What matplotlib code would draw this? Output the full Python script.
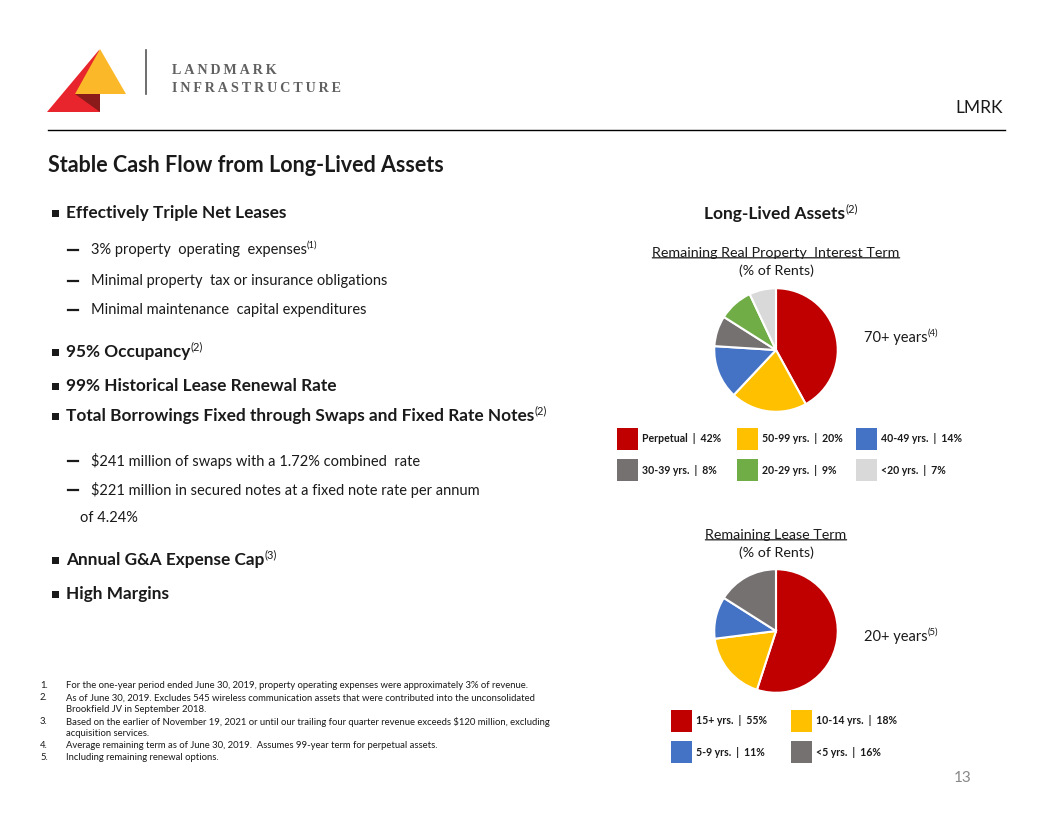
"""
Landmark Infrastructure slide 13: stable cash flow from long-lived assets.
Two pies (real property interest term, lease term) plus slide text.
"""

import matplotlib
matplotlib.use("Agg")
import matplotlib.pyplot as plt
from matplotlib.patches import Polygon, Rectangle

plt.rcParams["font.family"] = ["Lato", "DejaVu Sans"]

# data
property_labels = ["Perpetual  |  42%", "50-99 yrs.  |  20%", "40-49 yrs.  |  14%",
                   "30-39 yrs.  |  8%", "20-29 yrs.  |  9%", "<20 yrs.  |  7%"]
property_share = [42, 20, 14, 8, 9, 7]
property_colors = ["#C00000", "#FFC000", "#4472C4", "#767171", "#70AD47", "#D9D9D9"]

lease_labels = ["15+ yrs.  |  55%", "10-14 yrs.  |  18%", "5-9 yrs.  |  11%", "<5 yrs.  |  16%"]
lease_share = [55, 18, 11, 16]
lease_colors = ["#C00000", "#FFC000", "#4472C4", "#767171"]

W, H = 1056, 816
fig = plt.figure(figsize=(W / 100, H / 100), dpi=100)
bg = fig.add_axes([0, 0, 1, 1])
bg.set_xlim(0, W)
bg.set_ylim(H, 0)
bg.axis("off")

DARK = "#1a1a1a"
SERIF = ["Liberation Serif", "DejaVu Serif"]


def txt(x, y, s, size, bold=False, sup=None, color=DARK, ha="left", **kw):
    t = bg.text(x, y, s, fontsize=size, fontweight="bold" if bold else "normal",
                color=color, ha=ha, va="center", **kw)
    if sup:
        bg.annotate(sup, xy=(1.0, 0.5), xycoords=t, fontsize=size * 0.65,
                    color=color, ha="left", va="bottom")
    return t


def underline(t, color=DARK):
    bg.annotate("", xy=(0, 0.1), xytext=(1, 0.1), xycoords=t, textcoords=t,
                arrowprops=dict(arrowstyle="-", color=color, lw=0.9,
                                shrinkA=0, shrinkB=0))


# header / logo
bg.add_patch(Polygon([(47, 112), (100, 112), (99, 50)], closed=True, color="#E8242C", lw=0))
bg.add_patch(Polygon([(75, 94), (126, 94), (100, 49)], closed=True, color="#FBB829", lw=0))
bg.add_patch(Polygon([(75, 94), (100, 94), (100, 112)], closed=True, color="#8B1A1A", lw=0))
bg.plot([146, 146], [50, 94], color="#555555", lw=1.2)
bg.text(172, 70, "\u2009".join("LANDMARK"), fontsize=10.2, family=SERIF,
        color="#606060", va="center", fontweight="bold")
bg.text(172, 89, "\u2009".join("INFRASTRUCTURE"), fontsize=10.2, family=SERIF,
        color="#606060", va="center", fontweight="bold")
txt(1003, 108, "LMRK", 12.5, ha="right")
bg.plot([48, 1005], [130, 130], color="black", lw=1.0)
txt(972, 778, "13", 11, color="#888888", ha="right")

# left column
txt(48, 165, "Stable Cash Flow from Long-Lived Assets", 15.5, bold=True)

bullets = [(213, "Effectively Triple Net Leases", None),
           (352, "95% Occupancy", "(2)"),
           (386, "99% Historical Lease Renewal Rate", None),
           (416, "Total Borrowings Fixed through Swaps and Fixed Rate Notes", "(2)"),
           (560, "Annual G&A Expense Cap", "(3)"),
           (594, "High Margins", None)]
for y, s, sup in bullets:
    bg.add_patch(Rectangle((52, y - 3.5), 6.5, 7, color=DARK, lw=0))
    txt(66, y, s, 12.4, bold=True, sup=sup)

subs = [(250, "3% property  operating  expenses", "(1)"),
        (281, "Minimal property  tax or insurance obligations", None),
        (310, "Minimal maintenance  capital expenditures", None),
        (461, "$241 million of swaps with a 1.72% combined  rate", None),
        (490, "$221 million in secured notes at a fixed note rate per annum", None)]
for y, s, sup in subs:
    bg.plot([68, 78], [y, y], color=DARK, lw=1.6)
    txt(91, y, s, 10.5, sup=sup)
txt(80, 518, "of 4.24%", 10.5)

notes = ["For the one-year period ended June 30, 2019, property operating expenses were approximately 3% of revenue.",
         "As of June 30, 2019. Excludes 545 wireless communication assets that were contributed into the unconsolidated",
         "Brookfield JV in September 2018.",
         "Based on the earlier of November 19, 2021 or until our trailing four quarter revenue exceeds $120 million, excluding",
         "acquisition services.",
         "Average remaining term as of June 30, 2019.  Assumes 99-year term for perpetual assets.",
         "Including remaining renewal options."]
note_nums = ["1.", "2.", "", "3.", "", "4.", "5."]
for i, (num, s) in enumerate(zip(note_nums, notes)):
    y = 686 + 12 * i
    bg.text(40, y, num, fontsize=6.8, color=DARK, va="center", ha="left")
    bg.text(66, y, s, fontsize=6.8, color=DARK, va="center", ha="left")

# right column headings
txt(775, 214, "Long-Lived Assets", 12.5, bold=True, sup="(2)", ha="center")
t = txt(776, 253, "Remaining Real Property  Interest Term", 10.3, ha="center")
underline(t)
txt(776, 271, "(% of Rents)", 10.3, ha="center")
t = txt(776, 535, "Remaining Lease Term", 10.3, ha="center")
underline(t)
txt(776, 553, "(% of Rents)", 10.3, ha="center")
txt(864, 338, "70+ years", 10.5, sup="(4)")
txt(864, 637, "20+ years", 10.5, sup="(5)")


def pie_at(cx, cy, r, values, colors):
    ax = fig.add_axes([(cx - r) / W, 1 - (cy + r) / H, 2 * r / W, 2 * r / H])
    ax.pie(values, colors=colors, startangle=90, counterclock=False, radius=1.0,
           wedgeprops=dict(edgecolor="white", linewidth=1.5))
    ax.set_xlim(-1.02, 1.02)
    ax.set_ylim(-1.02, 1.02)
    ax.set_aspect("equal")
    ax.axis("off")


pie_at(776, 350, 63, property_share, property_colors)
pie_at(776, 631, 63, lease_share, lease_colors)


def legend_grid(x0, y0, dx, dy, ncol, labels, colors):
    for i, (lab, col) in enumerate(zip(labels, colors)):
        x = x0 + (i % ncol) * dx
        y = y0 + (i // ncol) * dy
        bg.add_patch(Rectangle((x, y - 11), 21, 22, color=col, lw=0))
        txt(x + 25, y, lab, 7.6, bold=True)


legend_grid(617, 439, 119.5, 31, 3, property_labels, property_colors)
legend_grid(671, 721, 120, 31, 2, lease_labels, lease_colors)

plt.savefig("out.png", dpi=100)
